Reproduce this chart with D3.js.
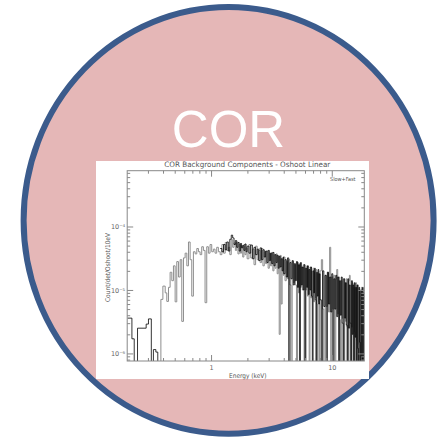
<!DOCTYPE html>
<html><head><meta charset="utf-8">
<script src="https://cdn.jsdelivr.net/npm/d3@7"></script>
<style>html,body{margin:0;padding:0;background:#fff;}svg{display:block}</style>
</head><body>
<svg id="c" width="443" height="439"></svg>
<script>
// ---------------- data ----------------
// bin left edges (keV)
const energy = [
  0.203,0.221,0.231,0.246,0.290,0.303,0.320,0.333,0.349,0.362,
  0.384,0.399,0.417,0.430,0.444,0.458,0.473,0.488,0.504,0.520,0.537,0.555,0.572,0.591,0.610,0.630,0.650,0.671,0.692,0.714,0.738,0.762,0.786,0.811,0.837,0.864,0.892,0.921,0.950,0.981,1.013,1.045,1.079,1.114,1.150,
  1.19,1.23,1.27,1.31,1.35,1.39,1.43,1.47,1.51,1.55,1.59,1.63,1.67,1.71,1.75,1.79,1.83,1.87,1.91,1.95,1.99,
  2.06,2.13,2.20,2.27,2.34,2.41,2.48,2.55,2.62,2.69,2.76,2.83,2.90,2.97,3.04,3.11,3.18,3.25,3.32,3.39,3.46,3.53,3.60,3.67,3.74,3.81,3.88,3.95,
  4.0,4.1,4.2,4.3,4.4,4.5,4.6,4.7,4.8,4.9,5.0,5.1,5.2,5.3,5.4,5.5,5.6,5.7,5.8,5.9,6.0,6.1,6.2,6.3,6.4,6.5,6.6,6.7,6.8,6.9,7.0,7.1,7.2,7.3,7.4,7.5,7.6,7.7,7.8,7.9,
  8.0,8.2,8.4,8.6,8.8,9.0,9.2,9.4,9.6,9.8,10.0,10.2,10.4,10.6,10.8,11.0,11.2,11.4,11.6,11.8,12.0,12.2,12.4,12.6,12.8,13.0,13.2,13.4,13.6,13.8,14.0,14.2,14.4,14.6,14.8,15.0,15.2,15.4,15.6,15.8,16.0,16.2,16.4,16.6,16.8,17.0,17.2,17.4,17.6,17.8,18.0,18.2,18.4
];
const energyEnd = 18.6;
const UNIT = 1e-6; // values below are in units of 1e-6 Count/det/Oshoot/10eV
const N = null;
// gray trace
const grayValues = [
  N,N,N,N,N,N,N,N,N,0,
  7.1,11.5,9.0,6.6,11,19,14,24,6.5,28,16,30,3.2,32,38,24,57,30,8,40,37,45,40,36,48,42,6.3,48,38,52,40,44,38,47,40,
  36,52,38,56,42,47,36,62,47,55,42,57,37,52,38,50,33,52,36,46,31,
  52,32,44,25,49,30,42,27,45,24,40,26,41,22,38,24,39,20,36,22,37,18,34,2.0,35,6.0,31,17,
  33,14,28,15,30,12,0,28,13,25,12,0,27,9,26,11,23,10,25,0,22,10,24,8,21,0,23,7.5,20,8,22,6.5,19,7.5,21,6,0,18,6.5,0,
  20,30,5,0,17,5.5,19,4.5,47,0,16,5,17,0,15,21,4.2,16,3.4,0,14,3.6,15,0,13,3.2,15,2.6,0,14,17,0,12,2.6,13,0,11,2.2,0,13,1.6,0,12,1.4,0,10,1.3,0,11,0.9,0,9,0
];
// black trace
const blackValues = [
  3.6,1.7,0,2.5,2.9,3.5,0,1.15,1.05,0,
  N,N,N,N,N,N,N,N,N,N,N,N,N,N,N,N,N,N,N,N,N,N,N,N,N,N,N,N,N,N,N,N,N,N,N,
  45,40,52,43,57,41,63,73,66,52,60,47,56,41,54,46,50,42,53,40,49,
  38,51,31,47,36,44,29,46,30,43,33,41,27,42,29,38,26,39,24,36,27,35,22,34,23,31,20,33,
  18,30,16,32,0,27,15,29,12,26,14,28,11,25,0,27,12,23,10,25,0,22,11,24,8.5,21,10,23,8,0,20,9,22,7,0,19,8,21,6,18,
  7,0,20,5.5,17,0,19,6,16,4.5,18,0,15,5,17,3.8,16,0,14,4,16,3,0,15,3.6,13,2.8,0,15,2.5,12,3,0,14,2,12,0,13,1.8,11,0,12,1.2,0,11,1.5,0,10,0.9,0,11,0,9
];
const xMajor = [1, 10];
const xMajorLabels = ["1", "10"];
const xMinor = [0.3,0.4,0.5,0.6,0.7,0.8,0.9,2,3,4,5,6,7,8,9];
const yMajor = [1e-6, 1e-5, 1e-4];
const yMajorLabels = ["10\u207B\u2076", "10\u207B\u2075", "10\u207B\u2074"];
const yMinor = [8e-7,9e-7,2e-6,3e-6,4e-6,5e-6,6e-6,7e-6,8e-6,9e-6,2e-5,3e-5,4e-5,5e-5,6e-5,7e-5,8e-5,9e-5,2e-4,3e-4,4e-4,5e-4,6e-4,7e-4];
const titleText = "COR Background Components - Oshoot Linear";
const xLabel = "Energy (keV)";
const yLabel = "Count/det/Oshoot/10eV";
const legendText = "Slow+Fast";
const badgeText = "COR";

// ---------------- drawing ----------------
const svg = d3.select("#c");
svg.append("ellipse").attr("cx",228.6).attr("cy",220.4).attr("rx",205).attr("ry",213.4)
  .attr("fill","#e5b7b7").attr("stroke","#3b5b8c").attr("stroke-width",6);
svg.append("text").attr("x",228.5).attr("y",146.7).attr("text-anchor","middle")
  .attr("font-family","'Liberation Sans',Arial,sans-serif").attr("font-size",51)
  .attr("fill","#ffffff").text(badgeText);
svg.append("rect").attr("x",96).attr("y",161).attr("width",273).attr("height",218).attr("fill","#ffffff");

const M = {l:127.2, r:364.3, t:170.7, b:361};
const x = d3.scaleLog().domain([0.202, energyEnd]).range([M.l, M.r]);
const y = d3.scaleLog().domain([7.6e-7, 7.57e-4]).range([M.b, M.t]);

svg.append("clipPath").attr("id","pc").append("rect")
  .attr("x",M.l).attr("y",M.t).attr("width",M.r-M.l).attr("height",M.b-M.t);

function points(vals){
  const p = energy.map((e,i)=>({e:e, v:vals[i]}));
  p.push({e:energyEnd, v:vals[vals.length-1]});
  return p;
}
const line = d3.line()
  .defined(d => d.v !== null)
  .x(d => x(d.e))
  .y(d => d.v > 0 ? y(d.v*UNIT) : M.b + 3)
  .curve(d3.curveStepAfter);

const plot = svg.append("g").attr("clip-path","url(#pc)");
plot.append("path").datum(points(grayValues)).attr("d",line)
  .attr("fill","none").attr("stroke","#8e8e8e").attr("stroke-width",1);
plot.append("path").datum(points(blackValues)).attr("d",line)
  .attr("fill","none").attr("stroke","#000").attr("stroke-width",0.8);

const axCol = "#888", txtCol = "#666", tf = "'DejaVu Sans',sans-serif";
function style(g){
  g.select(".domain").remove();
  g.selectAll(".tick line").attr("stroke",axCol).attr("stroke-width",1);
  g.selectAll(".tick text").attr("fill",txtCol).attr("font-family",tf).attr("font-size",6.5);
}
// bottom
svg.append("g").attr("transform",`translate(0,${M.b})`)
  .call(d3.axisBottom(x).tickValues(xMajor).tickFormat((d,i)=>xMajorLabels[i]).tickSizeInner(-6).tickSizeOuter(0).tickPadding(4)).call(style);
svg.append("g").attr("transform",`translate(0,${M.b})`)
  .call(d3.axisBottom(x).tickValues(xMinor).tickFormat("").tickSizeInner(-3).tickSizeOuter(0)).call(style);
// top
svg.append("g").attr("transform",`translate(0,${M.t})`)
  .call(d3.axisTop(x).tickValues(xMajor).tickFormat("").tickSizeInner(-6).tickSizeOuter(0)).call(style);
svg.append("g").attr("transform",`translate(0,${M.t})`)
  .call(d3.axisTop(x).tickValues(xMinor).tickFormat("").tickSizeInner(-3).tickSizeOuter(0)).call(style);
// left
svg.append("g").attr("transform",`translate(${M.l},0)`)
  .call(d3.axisLeft(y).tickValues(yMajor).tickFormat((d,i)=>yMajorLabels[i]).tickSizeInner(-6).tickSizeOuter(0).tickPadding(2)).call(style);
svg.append("g").attr("transform",`translate(${M.l},0)`)
  .call(d3.axisLeft(y).tickValues(yMinor).tickFormat("").tickSizeInner(-3).tickSizeOuter(0)).call(style);
// right
svg.append("g").attr("transform",`translate(${M.r},0)`)
  .call(d3.axisRight(y).tickValues(yMajor).tickFormat("").tickSizeInner(-6).tickSizeOuter(0)).call(style);
svg.append("g").attr("transform",`translate(${M.r},0)`)
  .call(d3.axisRight(y).tickValues(yMinor).tickFormat("").tickSizeInner(-3).tickSizeOuter(0)).call(style);

svg.append("rect").attr("x",M.l).attr("y",M.t).attr("width",M.r-M.l).attr("height",M.b-M.t)
  .attr("fill","none").attr("stroke",axCol).attr("stroke-width",1);

svg.append("text").attr("x",247.3).attr("y",167.3).attr("text-anchor","middle")
  .attr("font-family",tf).attr("font-size",7.5).attr("fill","#555")
  .attr("textLength",166).attr("lengthAdjust","spacingAndGlyphs").text(titleText);
svg.append("text").attr("x",342.8).attr("y",180.7).attr("text-anchor","middle")
  .attr("font-family",tf).attr("font-size",5.5).attr("fill","#555")
  .attr("textLength",25.5).attr("lengthAdjust","spacingAndGlyphs").text(legendText);
svg.append("text").attr("x",247.8).attr("y",377.7).attr("text-anchor","middle")
  .attr("font-family",tf).attr("font-size",6.5).attr("fill","#555")
  .attr("textLength",37.5).attr("lengthAdjust","spacingAndGlyphs").text(xLabel);
svg.append("text").attr("transform","translate(109.8,267.5) rotate(-90)").attr("text-anchor","middle")
  .attr("font-family",tf).attr("font-size",6.5).attr("fill","#555")
  .attr("textLength",69).attr("lengthAdjust","spacingAndGlyphs").text(yLabel);
</script>
</body></html>
